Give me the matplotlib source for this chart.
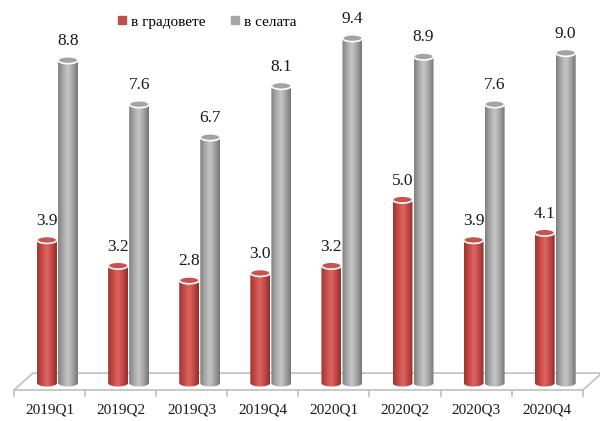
import numpy as np
import matplotlib.pyplot as plt
from matplotlib.patches import Ellipse, Polygon
from matplotlib.colors import LinearSegmentedColormap
from matplotlib.lines import Line2D

quarters = ['2019Q1', '2019Q2', '2019Q3', '2019Q4', '2020Q1', '2020Q2', '2020Q3', '2020Q4']
cities = [3.9, 3.2, 2.8, 3.0, 3.2, 5.0, 3.9, 4.1]
villages = [8.8, 7.6, 6.7, 8.1, 9.4, 8.9, 7.6, 9.0]
series_names = ['в градовете', 'в селата']

plt.rcParams['font.family'] = ['Liberation Serif', 'DejaVu Serif']

red_cm = LinearSegmentedColormap.from_list('r', ['#9c3532', '#c84a47', '#dc6663', '#c44845', '#8e2e2b'])
gray_cm = LinearSegmentedColormap.from_list('g', ['#7f7f7f', '#a9a9a9', '#c6c6c6', '#a2a2a2', '#767676'])
top_colors = ['#c9524f', '#a3a3a3']
mid_colors = ['#c0504d', '#a5a5a5']

fig = plt.figure(figsize=(6.0, 4.21), dpi=100)
ax = fig.add_axes([0, 0, 1, 1])

bw = 0.28      # cylinder width (category units)
eh = 0.19      # ellipse height (value units)
offs = [-0.148, 0.148]
grad = np.linspace(0, 1, 64).reshape(1, -1)


def cylinder(xc, val, cmap, topc):
    x0, x1 = xc - bw / 2, xc + bw / 2
    t = np.linspace(0, np.pi, 30)
    arc = np.column_stack([xc + bw / 2 * np.cos(t), -eh / 2 * np.sin(t)])
    pts = np.vstack([[[x0, val], [x1, val]], arc[::1][::-1][::-1]])
    # body outline: top-left, top-right, then lower arc right -> left
    pts = np.vstack([[[x0, val], [x1, val]], arc])
    clip = Polygon(pts, closed=True, transform=ax.transData, facecolor='none', edgecolor='none')
    ax.add_patch(clip)
    im = ax.imshow(grad, cmap=cmap, extent=(x0, x1, -eh / 2, val), aspect='auto',
                   origin='lower', interpolation='bilinear', zorder=2)
    im.set_clip_path(clip)
    ax.add_patch(Ellipse((xc, val), bw, eh, facecolor=topc, edgecolor='white', lw=1.2, zorder=3))


# floor
yf, yb = -0.19, 0.27
xl, xr, dx = -0.612, 7.39, 0.267
floor = Polygon([[xl, yf], [xr, yf], [xr + dx, yb], [xl + dx, yb]], closed=True,
                facecolor='white', edgecolor='#bfbfbf', lw=1.2, zorder=1)
ax.add_patch(floor)
for k in range(len(quarters) + 1):
    ax.plot([xl + k, xl + k], [yf, yf - 0.16], color='#bfbfbf', lw=1.2, zorder=1)

x = np.arange(len(quarters))
for j, (vals, cm) in enumerate([(cities, red_cm), (villages, gray_cm)]):
    for i, v in enumerate(vals):
        cylinder(x[i] + offs[j], v, cm, top_colors[j])
        ax.text(x[i] + offs[j], v + 0.3, f'{v:.1f}', ha='center', va='bottom',
                fontsize=12.5, color='#1a1a1a', zorder=4)

for i, q in enumerate(quarters):
    ax.text(xl + 0.5 + i, -0.74, q, ha='center', va='center', fontsize=11, color='#1a1a1a')

handles = [Line2D([], [], marker='s', ls='none', markersize=6, color=c) for c in mid_colors]
fig.legend(handles, series_names, loc='center', bbox_to_anchor=(0.345, 0.948), ncol=2,
           frameon=False, fontsize=11, handlelength=0.6, handletextpad=0.3, columnspacing=1.6)

ax.set_xlim(-0.809, 7.63)
ax.set_ylim(-1.035, 10.44)
ax.axis('off')
fig.savefig('out.png', dpi=100)
